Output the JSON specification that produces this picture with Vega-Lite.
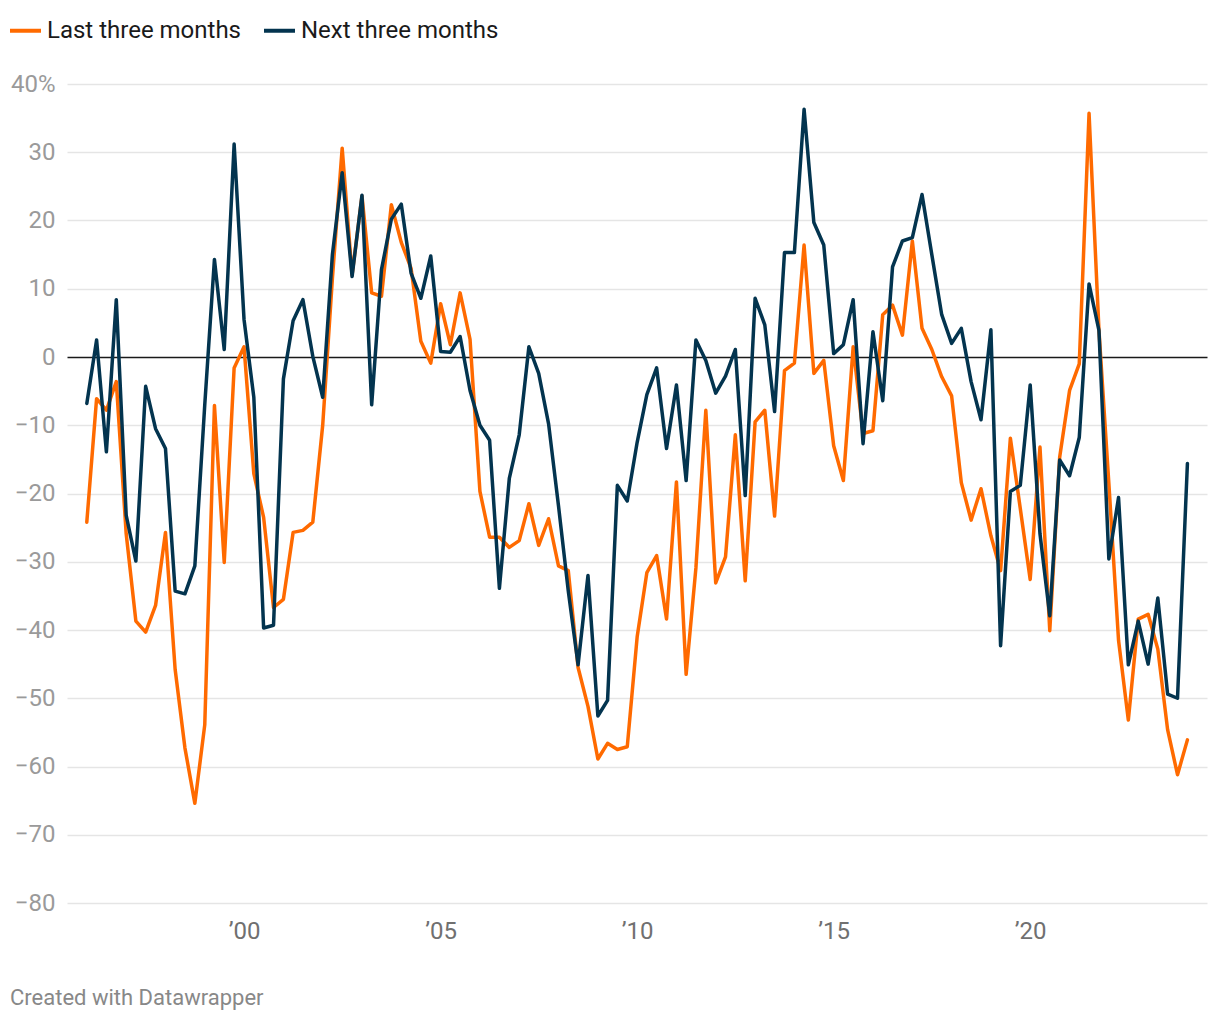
{
  "$schema": "https://vega.github.io/schema/vega-lite/v6.json",
  "width": 1140,
  "height": 819,
  "autosize": {"type": "none"},
  "padding": {"left": 67, "top": 84, "right": 13, "bottom": 117},
  "background": "white",
  "config": {"font": "Roboto", "view": {"stroke": null}},
  "title": {"text": "Created with Datawrapper", "orient": "bottom", "anchor": "start", "frame": "group", "dx": -57, "offset": 45, "fontSize": 22, "fontWeight": "normal", "color": "#888888", "font": "Roboto"},
  "data": {"values": [
    {"date": "1996-01-01", "Last three months": -24.2, "Next three months": -6.8},
    {"date": "1996-04-01", "Last three months": -6.1, "Next three months": 2.5},
    {"date": "1996-07-01", "Last three months": -7.8, "Next three months": -13.9},
    {"date": "1996-10-01", "Last three months": -3.6, "Next three months": 8.4},
    {"date": "1997-01-01", "Last three months": -25.9, "Next three months": -23.2},
    {"date": "1997-04-01", "Last three months": -38.7, "Next three months": -29.9},
    {"date": "1997-07-01", "Last three months": -40.3, "Next three months": -4.3},
    {"date": "1997-10-01", "Last three months": -36.4, "Next three months": -10.5},
    {"date": "1998-01-01", "Last three months": -25.7, "Next three months": -13.4},
    {"date": "1998-04-01", "Last three months": -45.8, "Next three months": -34.3},
    {"date": "1998-07-01", "Last three months": -57.3, "Next three months": -34.7},
    {"date": "1998-10-01", "Last three months": -65.4, "Next three months": -30.6},
    {"date": "1999-01-01", "Last three months": -53.9, "Next three months": -7.0},
    {"date": "1999-04-01", "Last three months": -7.1, "Next three months": 14.3},
    {"date": "1999-07-01", "Last three months": -30.1, "Next three months": 1.1},
    {"date": "1999-10-01", "Last three months": -1.6, "Next three months": 31.2},
    {"date": "2000-01-01", "Last three months": 1.5, "Next three months": 5.5},
    {"date": "2000-04-01", "Last three months": -17.1, "Next three months": -5.9},
    {"date": "2000-07-01", "Last three months": -23.5, "Next three months": -39.7},
    {"date": "2000-10-01", "Last three months": -36.7, "Next three months": -39.3},
    {"date": "2001-01-01", "Last three months": -35.5, "Next three months": -3.2},
    {"date": "2001-04-01", "Last three months": -25.7, "Next three months": 5.3},
    {"date": "2001-07-01", "Last three months": -25.4, "Next three months": 8.4},
    {"date": "2001-10-01", "Last three months": -24.2, "Next three months": 0.1},
    {"date": "2002-01-01", "Last three months": -10.0, "Next three months": -5.9},
    {"date": "2002-04-01", "Last three months": 11.5, "Next three months": 15.0},
    {"date": "2002-07-01", "Last three months": 30.6, "Next three months": 27.0},
    {"date": "2002-10-01", "Last three months": 12.0, "Next three months": 11.8},
    {"date": "2003-01-01", "Last three months": 23.6, "Next three months": 23.7},
    {"date": "2003-04-01", "Last three months": 9.4, "Next three months": -7.0},
    {"date": "2003-07-01", "Last three months": 8.9, "Next three months": 12.8},
    {"date": "2003-10-01", "Last three months": 22.3, "Next three months": 20.2},
    {"date": "2004-01-01", "Last three months": 16.8, "Next three months": 22.4},
    {"date": "2004-04-01", "Last three months": 13.0, "Next three months": 12.3},
    {"date": "2004-07-01", "Last three months": 2.3, "Next three months": 8.6},
    {"date": "2004-10-01", "Last three months": -0.9, "Next three months": 14.8},
    {"date": "2005-01-01", "Last three months": 7.8, "Next three months": 0.8},
    {"date": "2005-04-01", "Last three months": 1.8, "Next three months": 0.7},
    {"date": "2005-07-01", "Last three months": 9.4, "Next three months": 3.0},
    {"date": "2005-10-01", "Last three months": 2.6, "Next three months": -4.9},
    {"date": "2006-01-01", "Last three months": -19.7, "Next three months": -10.0},
    {"date": "2006-04-01", "Last three months": -26.4, "Next three months": -12.2},
    {"date": "2006-07-01", "Last three months": -26.4, "Next three months": -33.9},
    {"date": "2006-10-01", "Last three months": -27.9, "Next three months": -17.8},
    {"date": "2007-01-01", "Last three months": -26.9, "Next three months": -11.4},
    {"date": "2007-04-01", "Last three months": -21.5, "Next three months": 1.5},
    {"date": "2007-07-01", "Last three months": -27.6, "Next three months": -2.4},
    {"date": "2007-10-01", "Last three months": -23.7, "Next three months": -9.8},
    {"date": "2008-01-01", "Last three months": -30.6, "Next three months": -21.8},
    {"date": "2008-04-01", "Last three months": -31.3, "Next three months": -34.3},
    {"date": "2008-07-01", "Last three months": -45.5, "Next three months": -45.1},
    {"date": "2008-10-01", "Last three months": -51.2, "Next three months": -32.0},
    {"date": "2009-01-01", "Last three months": -58.9, "Next three months": -52.6},
    {"date": "2009-04-01", "Last three months": -56.6, "Next three months": -50.3},
    {"date": "2009-07-01", "Last three months": -57.5, "Next three months": -18.8},
    {"date": "2009-10-01", "Last three months": -57.1, "Next three months": -21.1},
    {"date": "2010-01-01", "Last three months": -41.0, "Next three months": -12.5},
    {"date": "2010-04-01", "Last three months": -31.6, "Next three months": -5.5},
    {"date": "2010-07-01", "Last three months": -29.1, "Next three months": -1.6},
    {"date": "2010-10-01", "Last three months": -38.4, "Next three months": -13.4},
    {"date": "2011-01-01", "Last three months": -18.3, "Next three months": -4.1},
    {"date": "2011-04-01", "Last three months": -46.5, "Next three months": -18.1},
    {"date": "2011-07-01", "Last three months": -30.9, "Next three months": 2.5},
    {"date": "2011-10-01", "Last three months": -7.8, "Next three months": -0.5},
    {"date": "2012-01-01", "Last three months": -33.1, "Next three months": -5.3},
    {"date": "2012-04-01", "Last three months": -29.3, "Next three months": -2.8},
    {"date": "2012-07-01", "Last three months": -11.4, "Next three months": 1.1},
    {"date": "2012-10-01", "Last three months": -32.8, "Next three months": -20.3},
    {"date": "2013-01-01", "Last three months": -9.5, "Next three months": 8.6},
    {"date": "2013-04-01", "Last three months": -7.8, "Next three months": 4.7},
    {"date": "2013-07-01", "Last three months": -23.3, "Next three months": -8.0},
    {"date": "2013-10-01", "Last three months": -2.0, "Next three months": 15.3},
    {"date": "2014-01-01", "Last three months": -0.9, "Next three months": 15.3},
    {"date": "2014-04-01", "Last three months": 16.4, "Next three months": 36.3},
    {"date": "2014-07-01", "Last three months": -2.4, "Next three months": 19.7},
    {"date": "2014-10-01", "Last three months": -0.5, "Next three months": 16.4},
    {"date": "2015-01-01", "Last three months": -13.0, "Next three months": 0.5},
    {"date": "2015-04-01", "Last three months": -18.1, "Next three months": 1.8},
    {"date": "2015-07-01", "Last three months": 1.5, "Next three months": 8.4},
    {"date": "2015-10-01", "Last three months": -11.2, "Next three months": -12.7},
    {"date": "2016-01-01", "Last three months": -10.8, "Next three months": 3.7},
    {"date": "2016-04-01", "Last three months": 6.2, "Next three months": -6.4},
    {"date": "2016-07-01", "Last three months": 7.6, "Next three months": 13.2},
    {"date": "2016-10-01", "Last three months": 3.2, "Next three months": 17.0},
    {"date": "2017-01-01", "Last three months": 17.0, "Next three months": 17.5},
    {"date": "2017-04-01", "Last three months": 4.2, "Next three months": 23.8},
    {"date": "2017-07-01", "Last three months": 1.1, "Next three months": 15.0},
    {"date": "2017-10-01", "Last three months": -2.9, "Next three months": 6.2},
    {"date": "2018-01-01", "Last three months": -5.7, "Next three months": 2.0},
    {"date": "2018-04-01", "Last three months": -18.4, "Next three months": 4.2},
    {"date": "2018-07-01", "Last three months": -23.9, "Next three months": -3.6},
    {"date": "2018-10-01", "Last three months": -19.3, "Next three months": -9.2},
    {"date": "2019-01-01", "Last three months": -26.2, "Next three months": 4.0},
    {"date": "2019-04-01", "Last three months": -31.3, "Next three months": -42.3},
    {"date": "2019-07-01", "Last three months": -11.9, "Next three months": -19.7},
    {"date": "2019-10-01", "Last three months": -22.2, "Next three months": -18.8},
    {"date": "2020-01-01", "Last three months": -32.6, "Next three months": -4.1},
    {"date": "2020-04-01", "Last three months": -13.2, "Next three months": -25.9},
    {"date": "2020-07-01", "Last three months": -40.1, "Next three months": -37.9},
    {"date": "2020-10-01", "Last three months": -14.7, "Next three months": -15.1},
    {"date": "2021-01-01", "Last three months": -4.9, "Next three months": -17.4},
    {"date": "2021-04-01", "Last three months": -1.0, "Next three months": -11.8},
    {"date": "2021-07-01", "Last three months": 35.7, "Next three months": 10.7},
    {"date": "2021-10-01", "Last three months": 3.9, "Next three months": 3.9},
    {"date": "2022-01-01", "Last three months": -18.5, "Next three months": -29.6},
    {"date": "2022-04-01", "Last three months": -41.5, "Next three months": -20.6},
    {"date": "2022-07-01", "Last three months": -53.2, "Next three months": -45.1},
    {"date": "2022-10-01", "Last three months": -38.4, "Next three months": -38.7},
    {"date": "2023-01-01", "Last three months": -37.7, "Next three months": -45.0},
    {"date": "2023-04-01", "Last three months": -42.8, "Next three months": -35.3},
    {"date": "2023-07-01", "Last three months": -54.6, "Next three months": -49.4},
    {"date": "2023-10-01", "Last three months": -61.2, "Next three months": -50.0},
    {"date": "2024-01-01", "Last three months": -56.1, "Next three months": -15.6}
  ]},
  "transform": [{"fold": ["Last three months", "Next three months"], "as": ["series", "value"]}],
  "mark": {"type": "line", "strokeWidth": 3.5, "strokeJoin": "round", "strokeCap": "round"},
  "encoding": {
    "x": {
      "field": "date",
      "type": "temporal",
      "scale": {"type": "utc", "domain": [{"year": 1995, "month": 7, "date": 1, "utc": true}, {"year": 2024, "month": 7, "date": 1, "utc": true}]},
      "axis": {
        "title": null,
        "values": [
          {"year": 2000, "month": 1, "date": 1, "utc": true},
          {"year": 2005, "month": 1, "date": 1, "utc": true},
          {"year": 2010, "month": 1, "date": 1, "utc": true},
          {"year": 2015, "month": 1, "date": 1, "utc": true},
          {"year": 2020, "month": 1, "date": 1, "utc": true}
        ],
        "labelExpr": "'’' + utcFormat(datum.value, '%y')",
        "grid": false,
        "domain": false,
        "ticks": false,
        "labelPadding": 16,
        "labelFontSize": 24,
        "labelColor": "#707070",
        "labelFont": "Roboto"
      }
    },
    "y": {
      "field": "value",
      "type": "quantitative",
      "scale": {"domain": [-80, 40], "nice": false, "zero": false},
      "axis": {
        "title": null,
        "values": [-80, -70, -60, -50, -40, -30, -20, -10, 0, 10, 20, 30, 40],
        "labelExpr": "datum.value == 40 ? '40%' : replace(format(datum.value, 'd'), '-', '−')",
        "domain": false,
        "ticks": false,
        "labelPadding": 12,
        "labelFontSize": 24,
        "labelColor": "#9a9a9a",
        "labelFont": "Roboto",
        "grid": true,
        "gridColor": {"condition": {"test": "datum.value === 0", "value": "#1a1a1a"}, "value": "#e5e5e5"},
        "gridWidth": 1.5
      }
    },
    "color": {
      "field": "series",
      "type": "nominal",
      "scale": {"domain": ["Last three months", "Next three months"], "range": ["#ff6a00", "#03344f"]},
      "legend": {
        "title": null,
        "orient": "none",
        "legendX": -59,
        "legendY": -71,
        "direction": "horizontal",
        "symbolType": "stroke",
        "symbolSize": 961,
        "symbolStrokeWidth": 4,
        "labelFontSize": 24,
        "labelFont": "Roboto",
        "labelColor": "#1a1a1a",
        "labelOffset": 4,
        "labelLimit": 500,
        "columnPadding": 14,
        "padding": 0
      }
    }
  }
}
